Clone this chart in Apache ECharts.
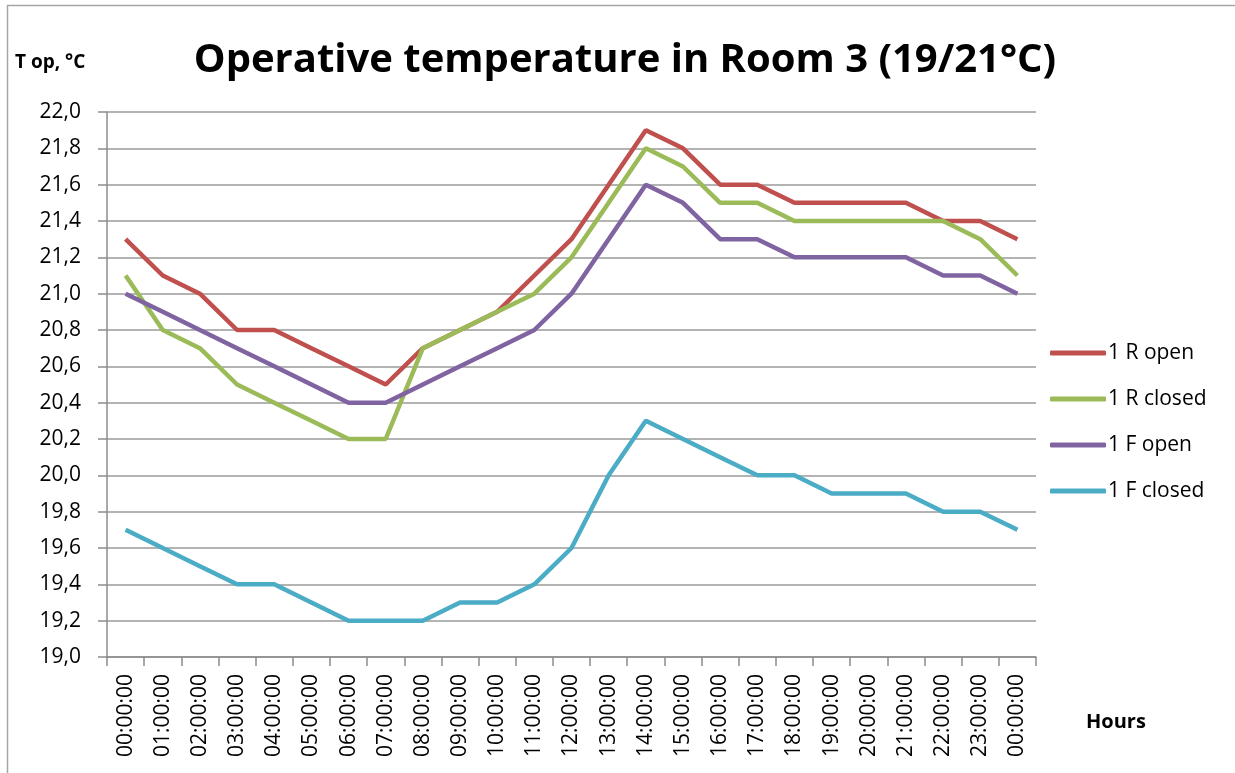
<!DOCTYPE html>
<html>
<head>
<meta charset="utf-8">
<script src="https://cdn.jsdelivr.net/npm/echarts@6/dist/echarts.min.js"></script>
<style>
  html, body { margin: 0; padding: 0; background: #fff; }
  #chart { width: 1235px; height: 773px; }
</style>
</head>
<body>
<div id="chart"></div>
<script>
// categories (hours)
const hours = ['00:00:00', '01:00:00', '02:00:00', '03:00:00', '04:00:00', '05:00:00', '06:00:00',
  '07:00:00', '08:00:00', '09:00:00', '10:00:00', '11:00:00', '12:00:00', '13:00:00', '14:00:00',
  '15:00:00', '16:00:00', '17:00:00', '18:00:00', '19:00:00', '20:00:00', '21:00:00', '22:00:00',
  '23:00:00', '00:00:00']

// series values, °C
const rOpen = [21.3, 21.1, 21.0, 20.8, 20.8, 20.7, 20.6, 20.5, 20.7, 20.8, 20.9, 21.1, 21.3,
  21.6, 21.9, 21.8, 21.6, 21.6, 21.5, 21.5, 21.5, 21.5, 21.4, 21.4, 21.3]
const rClosed = [21.1, 20.8, 20.7, 20.5, 20.4, 20.3, 20.2, 20.2, 20.7, 20.8, 20.9, 21.0, 21.2,
  21.5, 21.8, 21.7, 21.5, 21.5, 21.4, 21.4, 21.4, 21.4, 21.4, 21.3, 21.1]
const fOpen = [21.0, 20.9, 20.8, 20.7, 20.6, 20.5, 20.4, 20.4, 20.5, 20.6, 20.7, 20.8, 21.0,
  21.3, 21.6, 21.5, 21.3, 21.3, 21.2, 21.2, 21.2, 21.2, 21.1, 21.1, 21.0]
const fClosed = [19.7, 19.6, 19.5, 19.4, 19.4, 19.3, 19.2, 19.2, 19.2, 19.3, 19.3, 19.4, 19.6,
  20.0, 20.3, 20.2, 20.1, 20.0, 20.0, 19.9, 19.9, 19.9, 19.8, 19.8, 19.7]

const seriesNames = ['1 R open', '1 R closed', '1 F open', '1 F closed']
const seriesColors = ['#c0504d', '#9bbb59', '#8064a2', '#4bacc6']
const seriesData = [rOpen, rClosed, fOpen, fClosed]

const font = '"Open Sans", Lato, sans-serif'
const chart = echarts.init(document.getElementById('chart'))

chart.setOption({
  animation: false,
  textStyle: { fontFamily: font },
  title: {
    text: 'Operative temperature in Room 3 (19/21°C)',
    left: 620,
    top: 36,
    textAlign: 'center',
    textStyle: { fontFamily: font, fontSize: 40, fontWeight: 'bold', color: '#000' }
  },
  graphic: [
    // outer frame like the spreadsheet chart area
    {
      type: 'rect',
      shape: { x: 7.5, y: 5.5, width: 1240, height: 780 },
      style: { fill: 'none', stroke: '#a6a6a6', lineWidth: 1.5 }
    },
    {
      type: 'text',
      left: 15,
      top: 53,
      style: { text: 'T op, °C', font: 'bold 19px ' + font, fill: '#000' }
    },
    {
      type: 'text',
      left: 1086,
      top: 712,
      style: { text: 'Hours', font: 'bold 20px ' + font, fill: '#000' }
    }
  ],
  legend: {
    orient: 'vertical',
    left: 1045,
    top: 336,
    itemGap: 22,
    itemWidth: 56,
    itemHeight: 5,
    icon: 'roundRect',
    textStyle: { fontFamily: font, fontSize: 21, lineHeight: 24, color: '#000', padding: [0, 0, 0, -3] },
    data: seriesNames
  },
  grid: {
    left: 107,
    right: 199,
    top: 112,
    bottom: 116
  },
  xAxis: {
    type: 'category',
    boundaryGap: true,
    data: hours,
    axisLine: { lineStyle: { color: '#8c8c8c', width: 1.5 } },
    axisTick: { show: true, length: 9, interval: 0, lineStyle: { color: '#8c8c8c', width: 1.5 } },
    axisLabel: {
      interval: 0,
      rotate: 90,
      margin: 17,
      fontSize: 21,
      color: '#000',
      fontFamily: font
    }
  },
  yAxis: {
    type: 'value',
    min: 19,
    max: 22,
    interval: 0.2,
    axisLine: { show: true, lineStyle: { color: '#8c8c8c', width: 1.5 } },
    axisTick: { show: true, length: 9, lineStyle: { color: '#8c8c8c', width: 1.5 } },
    splitLine: { lineStyle: { color: '#9a9a9a', width: 1.5 } },
    axisLabel: {
      margin: 26,
      fontSize: 21,
      color: '#000',
      fontFamily: font,
      formatter: v => v.toFixed(1).replace('.', ',')
    }
  },
  series: seriesNames.map((name, i) => ({
    name: name,
    type: 'line',
    data: seriesData[i],
    symbol: 'none',
    color: seriesColors[i],
    lineStyle: { width: 4.5, color: seriesColors[i] }
  }))
})
</script>
</body>
</html>
